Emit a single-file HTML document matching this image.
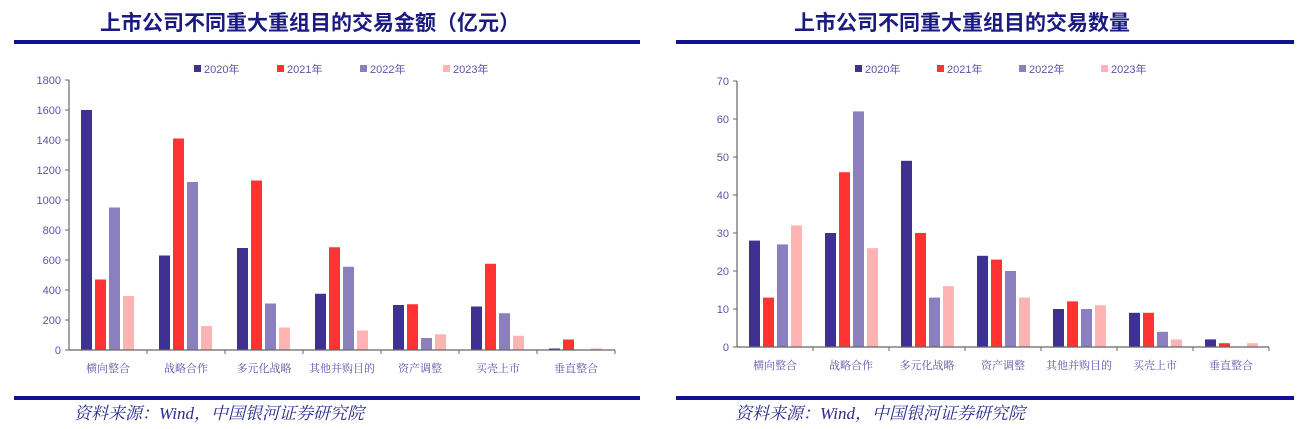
<!DOCTYPE html>
<html><head><meta charset="utf-8"><style>
html,body{margin:0;padding:0;background:#fff;width:1311px;height:429px;overflow:hidden}
svg{display:block}
.t{font-family:"Liberation Sans","Noto Sans CJK SC",sans-serif;font-weight:bold;font-size:21px;fill:#1a1a80}
.ax{font-family:"Liberation Sans","Noto Sans CJK SC",sans-serif;font-size:11px;fill:#5a56a8}
.cat{font-family:"Liberation Serif","Noto Serif CJK SC",serif;font-size:11px;fill:#5a56a8}
.src{font-family:"Liberation Serif","Noto Serif CJK SC",serif;font-style:italic;font-size:17px;fill:#2a2a90}
</style></head><body>
<svg id="s" width="1311" height="429">
<text class="t" x="310" y="30" text-anchor="middle">上市公司不同重大重组目的交易金额（亿元）</text>
<text class="t" x="962" y="30" text-anchor="middle">上市公司不同重大重组目的交易数量</text>
<rect x="14" y="40" width="626" height="4" fill="#101090"/>
<rect x="676" y="40" width="618" height="4" fill="#101090"/>
<rect x="14" y="396" width="626" height="4" fill="#101090"/>
<rect x="676" y="396" width="618" height="4" fill="#101090"/>
<text class="src" x="74" y="419">资料来源：Wind，中国银河证券研究院</text>
<text class="src" x="735" y="419">资料来源：Wind，中国银河证券研究院</text>
</svg>
<script>
const seriesNames=["2020年","2021年","2022年","2023年"];
const catsLeft=["横向整合","战略合作","多元化战略","其他并购目的","资产调整","买壳上市","垂直整合"];
const amt2020=[1600,630,680,375,300,290,10];
const amt2021=[470,1410,1130,685,305,575,70];
const amt2022=[950,1120,310,555,80,245,0];
const amt2023=[360,160,150,130,105,95,10];
const ticksLeft=[0,200,400,600,800,1000,1200,1400,1600,1800];
const catsRight=["横向整合","战略合作","多元化战略","资产调整","其他并购目的","买壳上市","垂直整合"];
const cnt2020=[28,30,49,24,10,9,2];
const cnt2021=[13,46,30,23,12,9,1];
const cnt2022=[27,62,13,20,10,4,0];
const cnt2023=[32,26,16,13,11,2,1];
const ticksRight=[0,10,20,30,40,50,60,70];
const colors=["#3f3192","#ff3333","#8b80bd","#ffb3b3"];
const NS="http://www.w3.org/2000/svg";
const svg=document.getElementById('s');
function mk(tag,attrs,parent){const e=document.createElementNS(NS,tag);for(const k in attrs)e.setAttribute(k,attrs[k]);(parent||svg).appendChild(e);return e;}
function chart(o){
  const g=mk('g',{});
  
  
  const max=o.ticks[o.ticks.length-1];
  const y=v=>o.y0-(v/max)*(o.y0-o.yTop);
  const cw=(o.xEnd-o.x0)/o.cats.length;
  const xc=i=>o.x0+cw*i;
  o.ticks.forEach(t=>{
    const tl=mk('line',{x1:o.x0-4,x2:o.x0,y1:y(t),y2:y(t),stroke:'#666'},g);
    
    
    const tx=mk('text',{class:'ax',x:o.x0-8,y:y(t)+4,'text-anchor':'end'},g);
    
    
    tx.textContent=t;
  });
  o.series.forEach((s,si)=>{
    s.forEach((v,i)=>{
      const r=mk('rect',{x:xc(i)+12+si*14,y:y(v),width:11,height:o.y0-y(v),fill:colors[si]},g);
      
      
    });
  });
  const ya=mk('line',{x1:o.x0,x2:o.x0,y1:o.yTop,y2:o.y0,stroke:'#666','stroke-width':1.2},g);
  
  
  const xa=mk('line',{x1:o.x0,x2:o.xEnd,y1:o.y0,y2:o.y0,stroke:'#666','stroke-width':1.2},g);
  
  
  o.cats.forEach((c,i)=>{
    const tk=mk('line',{x1:xc(i+1),x2:xc(i+1),y1:o.y0,y2:o.y0+4,stroke:'#666'},g);
    
    
    const t=mk('text',{class:'cat',x:xc(i)+cw/2,y:o.y0+22,'text-anchor':'middle'},g);
    
    
    t.textContent=c;
  });
  seriesNames.forEach((n,si)=>{
    const lx=o.legX+si*o.legStep;
    const sq=mk('rect',{x:lx,y:65,width:7,height:7,fill:colors[si]},g);
    
    
    const lt=mk('text',{class:'ax',x:lx+10,y:73},g);
    
    
    lt.textContent=n;
  });
}
chart({name:'left-chart',cats:catsLeft,series:[amt2020,amt2021,amt2022,amt2023],ticks:ticksLeft,x0:69,xEnd:615,y0:350,yTop:80,legX:194,legStep:83});
chart({name:'right-chart',cats:catsRight,series:[cnt2020,cnt2021,cnt2022,cnt2023],ticks:ticksRight,x0:737,xEnd:1269,y0:347,yTop:81,legX:855,legStep:82});
</script>
</body></html>
